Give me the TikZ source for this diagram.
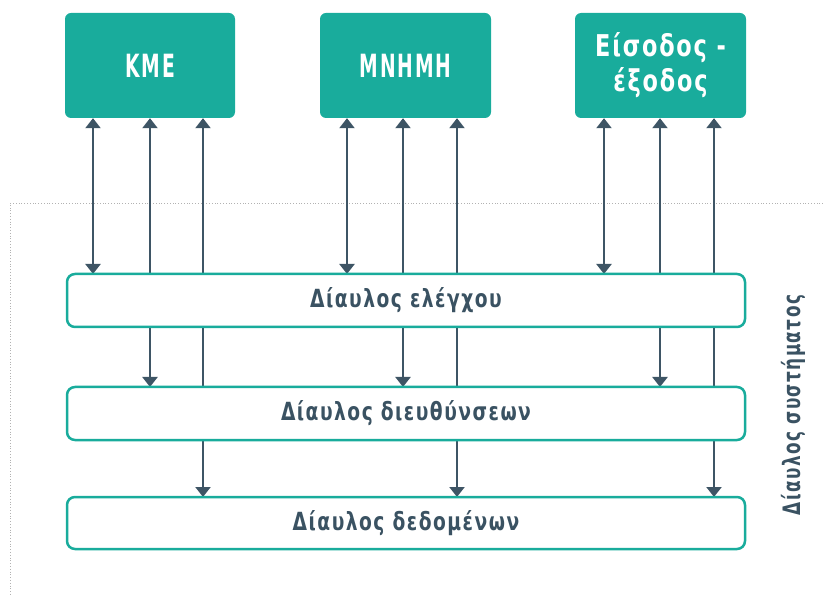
\documentclass[tikz,border=0pt]{standalone}
\usepackage{fontspec}
\usetikzlibrary{arrows.meta}
\newfontfamily\capfont[FakeStretch=0.65,LetterSpace=6]{DejaVu Sans Condensed Bold}
\newfontfamily\lab[FakeStretch=0.83,LetterSpace=6]{DejaVu Sans Condensed Bold}
\newfontfamily\sidefont[FakeStretch=0.78,LetterSpace=6]{DejaVu Sans Condensed Bold}
\definecolor{teal1}{HTML}{19AC9C}
\definecolor{slate}{HTML}{3E5565}
\definecolor{txt}{HTML}{3A5262}
\tikzset{
  unit/.style={fill=teal1, rounded corners=6pt, text=white, align=center, inner sep=0pt},
  bus/.style={draw=teal1, line width=2.5pt, fill=white, rounded corners=8pt, text=txt, font=\lab\fontsize{25}{27}\selectfont, inner sep=0pt},
  link/.style={draw=slate, line width=2.2pt, {Triangle[width=15pt,length=10pt]}-{Triangle[width=15pt,length=10pt]}},
  frame/.style={draw=gray!60, line width=0.8pt, dotted}
}
\begin{document}
\begin{tikzpicture}[x=1pt,y=-1pt]
\useasboundingbox (0,0) rectangle (823,596);
% frame
\coordinate (fa) at (823,203);
\coordinate (fb) at (10,203);
\coordinate (fc) at (10,596);
\draw[frame] (fa) -- (fb) -- (fc);
% units
\node[unit, minimum width=170pt, minimum height=105pt, font=\capfont\fontsize{32}{34}\selectfont] (kme) at (150,65.5) {KME};
\node[unit, minimum width=171pt, minimum height=105pt, font=\capfont\fontsize{32}{34}\selectfont] (mem) at (405.5,65.5) {MNHMH};
\node[unit, minimum width=171pt, minimum height=105pt, font=\lab\fontsize{30}{35}\selectfont] (io) at (660.5,65.5) {Είσοδος -\\έξοδος};
% bus positions (for anchors)
\coordinate (ctlt) at (0,274);
\coordinate (adrt) at (0,387);
\coordinate (datt) at (0,497);
% column coordinates
\foreach \n/\x in {a1/93,a2/150,a3/203,b1/347,b2/403,b3/457,c1/604,c2/660,c3/714}
  \coordinate (\n) at (\x,0);
\draw[link] (a1 |- kme.south) -- (a1 |- ctlt);
\draw[link] (a2 |- kme.south) -- (a2 |- adrt);
\draw[link] (a3 |- kme.south) -- (a3 |- datt);
\draw[link] (b1 |- mem.south) -- (b1 |- ctlt);
\draw[link] (b2 |- mem.south) -- (b2 |- adrt);
\draw[link] (b3 |- mem.south) -- (b3 |- datt);
\draw[link] (c1 |- io.south) -- (c1 |- ctlt);
\draw[link] (c2 |- io.south) -- (c2 |- adrt);
\draw[link] (c3 |- io.south) -- (c3 |- datt);
% buses
\node[bus, minimum width=678pt, minimum height=53pt] (ctl) at (406,300.5) {Δίαυλος ελέγχου};
\node[bus, minimum width=678pt, minimum height=53pt] (adr) at (406,413.5) {Δίαυλος διευθύνσεων};
\node[bus, minimum width=678pt, minimum height=52pt] (dat) at (406,523) {Δίαυλος δεδομένων};
\node[rotate=90, text=txt, font=\sidefont\fontsize{24}{26}\selectfont, inner sep=0pt] (sys) at (793,405) {Δίαυλος συστήματος};
\end{tikzpicture}
\end{document}
